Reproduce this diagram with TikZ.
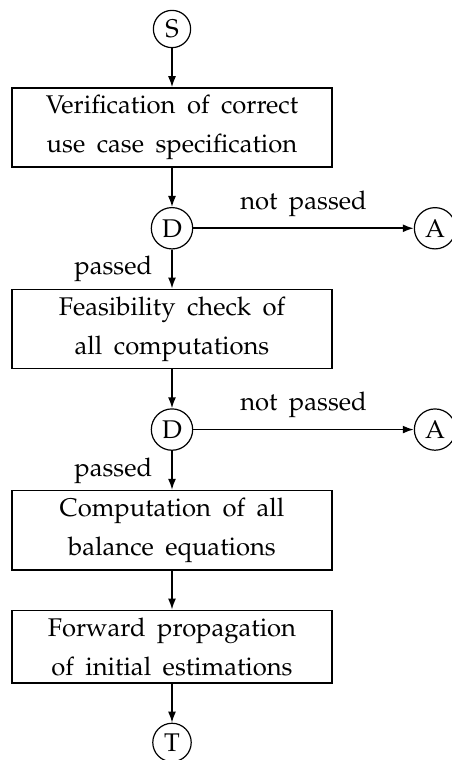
\documentclass[tikz,border=0pt]{standalone}
\usepackage[T1]{fontenc}
\usepackage{mathpazo}
\usetikzlibrary{arrows.meta,positioning}
\tikzset{
  every node/.style={font={\fontsize{12.8}{19.5}\selectfont\spaceskip=0.45em\relax}},
  conn/.style={circle,draw,semithick,inner sep=2.6pt},
  stepbox/.style={rectangle,draw,thick,minimum width=160pt,align=center,inner ysep=3.6pt},
  arr/.style={thick,-{Latex[length=5.5pt,width=4pt]}},
  lab/.style={inner sep=0pt}
}
\begin{document}
\begin{tikzpicture}[x=0.5pt,y=-0.5pt]
\useasboundingbox (0,0) rectangle (451,760);
\node[conn] (S) at (172,29) {S};
\node[stepbox,below=19.5pt of S] (b1) {Verification of correct\\use case specification};
\node[conn,below=19.5pt of b1] (d1) {D};
\node[conn] (a1) at (435,0 |- d1) {A};
\node[stepbox,below=19.5pt of d1] (b2) {Feasibility check of\\all computations};
\node[conn,below=19.5pt of b2] (d2) {D};
\node[conn] (a2) at (435,0 |- d2) {A};
\node[stepbox,below=19.5pt of d2] (b3) {Computation of all\\balance equations};
\node[stepbox,below=19.5pt of b3] (b4) {Forward propagation\\of initial estimations};
\node[conn,below=19.5pt of b4] (T) {T};
\draw[arr] (S) -- (b1);
\draw[arr] (b1) -- (d1);
\draw[arr] (d1) -- node[lab,midway,above=5.5pt]{not passed} (a1);
\draw[arr] (d1) -- node[lab,midway,left=9.5pt]{passed} (b2);
\draw[arr] (b2) -- (d2);
\draw[arr] (d2) -- node[lab,midway,above=5.5pt]{not passed} (a2);
\draw[arr] (d2) -- node[lab,midway,left=9.5pt]{passed} (b3);
\draw[arr] (b3) -- (b4);
\draw[arr] (b4) -- (T);
\end{tikzpicture}
\end{document}
